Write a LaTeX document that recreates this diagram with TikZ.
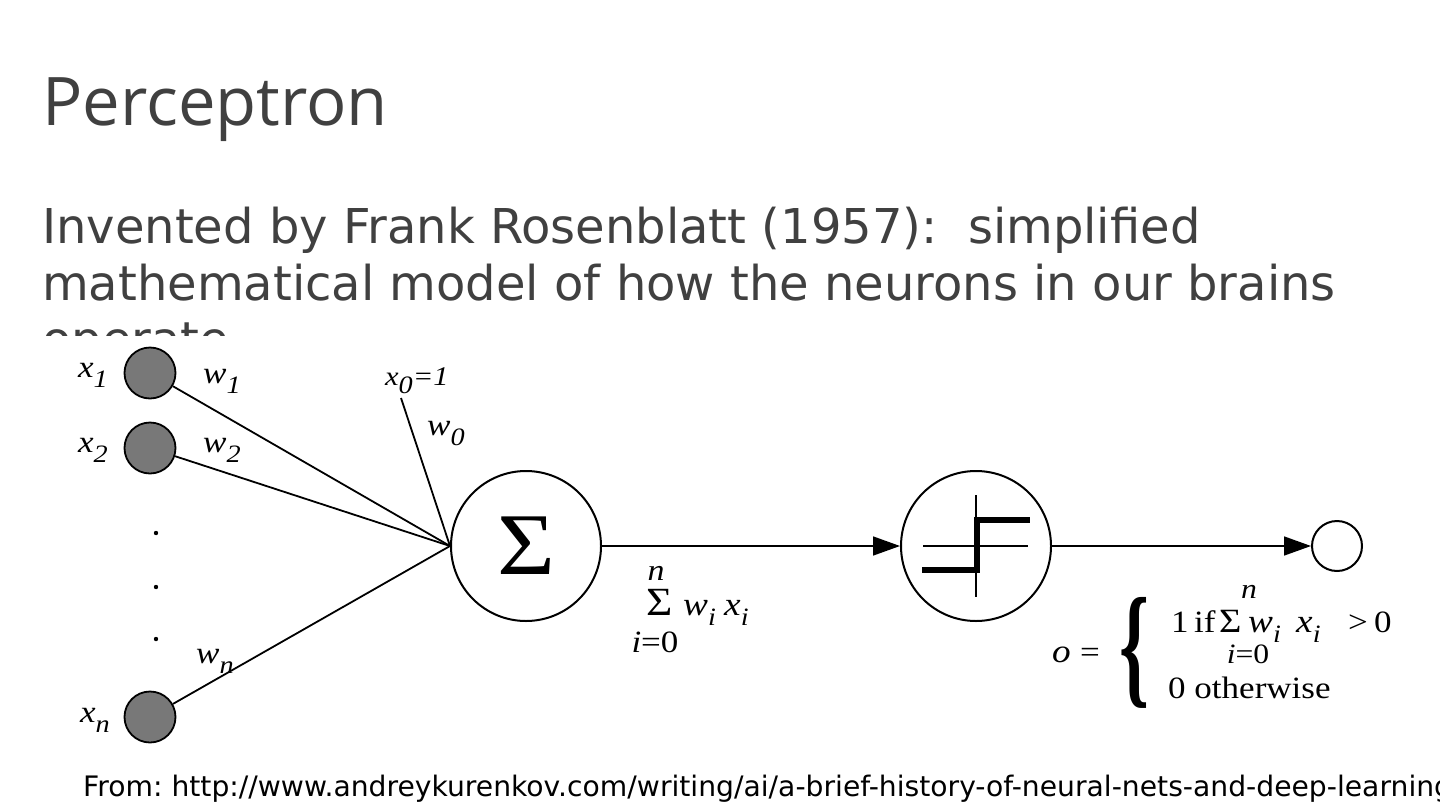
\documentclass[tikz,border=0pt]{standalone}
\usepackage{fontspec}
\newfontfamily\titlefont{Open Sans}
\newfontfamily\bodyfont{DejaVu Sans}
\newfontfamily\diafont[FakeStretch=1.13]{Liberation Serif}
\usetikzlibrary{arrows.meta}
\definecolor{txtgray}{HTML}{404040}
\definecolor{nodegray}{HTML}{787878}
\newcommand\lsub[1]{\raisebox{-0.33em}{\fontsize{25}{25}\selectfont #1}}
\frenchspacing
\begin{document}
\begin{tikzpicture}[x=1pt,y=-1pt,
  titletext/.style={inner sep=0, anchor=base west, text=txtgray, font=\titlefont\fontsize{67}{80}\selectfont},
  bodytext/.style={inner sep=0, anchor=base west, text=txtgray, font=\bodyfont\fontsize{48}{56}\selectfont},
  foottext/.style={inner sep=0, anchor=base west, text=black, font=\bodyfont\fontsize{28.2}{30}\selectfont},
  lab/.style={inner sep=0, anchor=base west, font=\diafont\itshape\fontsize{31}{31}\selectfont},
  frm/.style={inner sep=0, font=\diafont\fontsize{31}{31}\selectfont},
  ifrm/.style={inner sep=0, font=\diafont\itshape\fontsize{33}{33}\selectfont},
  inputnode/.style={circle, draw=black, line width=1.8pt, fill=nodegray, minimum size=51pt, inner sep=0},
  unitnode/.style={circle, draw=black, line width=2pt, minimum size=150pt, inner sep=0},
  outnode/.style={circle, draw=black, line width=2pt, minimum size=50pt, inner sep=0},
  conn/.style={line width=1.8pt},
  arr/.style={line width=1.6pt, -{Triangle[length=27pt,width=19pt]}},
  axisline/.style={line width=1.5pt},
  stepline/.style={line width=6pt, line join=miter}
]
\useasboundingbox (0,0) rectangle (1440,811);
\fill[white] (0,0) rectangle (1440,811);

% texts
\node[titletext] (title) at (42,125) {Perceptron};
\node[bodytext] (l1) at (42,243) {Invented by Frank Rosenblatt (1957):\ \ simplified};
\node[bodytext] (l2) at (42,300) {mathematical model of how the neurons in our brains};
\begin{scope}
\clip (0,0) rectangle (1440,335);
\node[bodytext] (l3) at (42,356) {operate};
\end{scope}
\begin{scope}
\clip (0,740) rectangle (1440,811);
\node[foottext] (foot) at (83,796) {From: http://www.andreykurenkov.com/writing/ai/a-brief-history-of-neural-nets-and-deep-learning};
\end{scope}

% nodes
\node[inputnode] (x1) at (150,373) {};
\node[inputnode] (x2) at (150,448) {};
\node[inputnode] (xn) at (150,717) {};
\node[unitnode, font=\diafont\fontsize{88}{88}\selectfont] (sum) at (526,546) {Σ};
\node[unitnode] (step) at (976,546) {};
\node[outnode] (out) at (1337,546) {};
\coordinate (x0end) at (401,398);

% dots
\fill (156,533) circle (2.2);
\fill (156,587) circle (2.2);
\fill (156,639) circle (2.2);

% labels
\node[lab] (lx1) at (78,377) {x\lsub{1}};
\node[lab] (lx2) at (78,452) {x\lsub{2}};
\node[lab] (lxn) at (80,722) {x\lsub{n}};
\node[lab] (lw1) at (203,383) {w\lsub{1}};
\node[lab] (lw2) at (203,452) {w\lsub{2}};
\node[lab] (lwn) at (196,663) {w\lsub{n}};
\node[lab, font=\diafont\itshape\fontsize{27}{27}\selectfont] (lx0) at (385,385) {x\lsub{0}=1};
\node[lab] (lw0) at (427,435) {w\lsub{0}};

% connectors
\draw[conn] (x1) -- (sum.west);
\draw[conn] (x2) -- (sum.west);
\draw[conn] (xn) -- (sum.west);
\draw[conn] (x0end) -- (sum.west);
\draw[arr] (sum.east) -- (step.west);
\draw[arr] (step.east) -- (out.west);

% step function
\draw[axisline] (976,495) -- (976,597);
\draw[axisline] (923,546) -- (1028,546);
\draw[stepline] (922,570) -- (977,570) -- (977,520) -- (1030,520);

% sum formula
\node[frm, anchor=base west, font=\diafont\fontsize{40}{40}\selectfont] (s1) at (646,615) {Σ};
\node[ifrm, anchor=base, font=\diafont\itshape\fontsize{30}{30}\selectfont] (s1n) at (656,580) {n};
\node[frm, anchor=base] (s1i) at (655,652) {\itshape i\upshape =0};
\node[ifrm, anchor=base west] (s1w) at (683,615) {w\lsub{i}};
\node[ifrm, anchor=base west] (s1x) at (724,615) {x\lsub{i}};

% output formula
\node[ifrm, anchor=base west] (oo) at (1052,662) {o};
\node[frm, anchor=base west] (oeq) at (1080,662) {=};
\node[inner sep=0, anchor=north west] (brace) at (1119,597) {\resizebox*{30pt}{111pt}{\diafont\bfseries\{}};
\node[frm, anchor=base west] (r1a) at (1171,632) {1};
\node[frm, anchor=base west] (r1b) at (1194,632) {if};
\node[frm, anchor=base west, font=\diafont\fontsize{34}{34}\selectfont] (s2) at (1219,632) {Σ};
\node[ifrm, anchor=base, font=\diafont\itshape\fontsize{28}{28}\selectfont] (s2n) at (1249,598) {n};
\node[frm, anchor=base, font=\diafont\fontsize{28}{28}\selectfont] (s2i) at (1248,663) {\itshape i\upshape =0};
\node[ifrm, anchor=base west] (r1w) at (1248,632) {w\lsub{i}};
\node[ifrm, anchor=base west] (r1x) at (1296,632) {x\lsub{i}};
\node[frm, anchor=base west] (r1g) at (1348,632) {>};
\node[frm, anchor=base west] (r1z) at (1374,632) {0};
\node[frm, anchor=base west] (r2) at (1168,698) {0 otherwise};
\end{tikzpicture}
\end{document}
